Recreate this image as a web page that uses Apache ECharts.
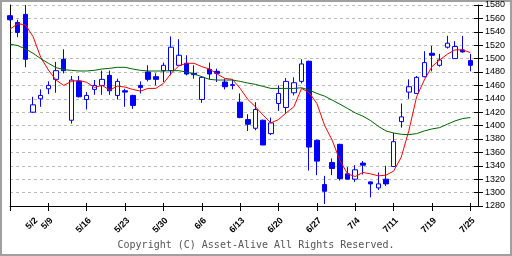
<!DOCTYPE html>
<html><head><meta charset="utf-8">
<script src="https://cdn.jsdelivr.net/npm/echarts@6/dist/echarts.min.js"></script>
<style>html,body{margin:0;padding:0;background:#fff}#c{width:512px;height:256px}</style>
</head><body><div id="c"></div>
<script>
var dates = ['4/26','4/27','4/28','5/2','5/6','5/9','5/10','5/11','5/12','5/13','5/16','5/17','5/18','5/19','5/20','5/23','5/24','5/25','5/26','5/27','5/30','5/31','6/1','6/2','6/3','6/6','6/7','6/8','6/9','6/10','6/13','6/14','6/15','6/16','6/17','6/20','6/21','6/22','6/23','6/24','6/27','6/28','6/29','6/30','7/1','7/4','7/5','7/6','7/7','7/8','7/11','7/12','7/13','7/14','7/15','7/19','7/20','7/21','7/22','7/25','7/26',''];
var opens  = [1564,1554,1566,1420,1440,1455,1469,1499,1408,1466,1439,1454,1460,1475,1445,1452,1445,1460,1480,1473,1482,1482,1490,1493,1478,1439,1484,1481,1465,1461,1435,1409,1396,1408,1388,1433,1427,1449,1466,1496,1378,1312,1345,1372,1328,1320,1344,1316,1307,1320,1339,1406,1450,1448,1473,1508,1490,1517,1500,1513,1497];
var closes = [1558,1539,1499,1431,1445,1460,1482,1482,1468,1443,1445,1460,1469,1452,1466,1450,1430,1457,1469,1469,1490,1517,1505,1477,1476,1472,1477,1478,1458,1460,1412,1402,1424,1371,1404,1448,1466,1464,1492,1368,1347,1302,1336,1321,1320,1334,1341,1313,1313,1313,1376,1413,1458,1472,1494,1505,1498,1523,1518,1510,1490];
var lows   = [1557,1532,1487,1419,1428,1447,1449,1478,1403,1442,1424,1446,1446,1446,1439,1428,1425,1448,1466,1460,1465,1475,1490,1475,1470,1434,1469,1465,1454,1454,1411,1392,1393,1371,1386,1422,1419,1445,1463,1333,1326,1283,1326,1318,1320,1316,1327,1293,1304,1310,1339,1397,1440,1448,1472,1481,1488,1515,1500,1509,1481];
var highs  = [1565,1558,1580,1443,1454,1466,1495,1514,1474,1474,1450,1468,1482,1482,1470,1455,1446,1466,1490,1478,1494,1533,1529,1505,1490,1474,1494,1485,1470,1469,1448,1417,1435,1409,1412,1460,1471,1472,1499,1497,1379,1325,1351,1373,1338,1341,1347,1317,1330,1340,1389,1433,1469,1474,1511,1519,1507,1534,1526,1534,1507];
var maShort = [1544,1552,1550.5,1533,1502,1483,1468,1460,1466,1467.5,1464.5,1457,1460,1453,1459,1457.5,1454,1451.5,1455.5,1455.5,1463,1478,1489,1493,1493,1488,1484.5,1477,1470.5,1469,1455.5,1439,1428,1415.5,1404,1409,1419,1428,1455.5,1449,1433,1400.5,1378,1348,1328,1324,1330,1328,1325,1326,1332,1353,1393,1443,1468,1488,1498,1506.5,1513,1513,1509];
var maLong = [1521.5,1519.5,1514.5,1508,1500,1493,1486.5,1483.5,1482.5,1481.5,1481.5,1482.5,1484.5,1485.5,1487,1487,1484.5,1482.5,1481.5,1481.5,1481.5,1482,1482,1480,1477,1473,1469,1468,1468,1468,1466,1463.5,1461.5,1458.5,1455.5,1455.5,1455.5,1455.5,1456.5,1453,1448,1444,1438,1432,1425.5,1419,1414,1407.5,1399,1392,1389,1387,1386.5,1388,1392,1395,1397,1402,1407,1410.5,1412];
var tickIdx = [3,5,10,15,20,25,30,35,40,45,50,55,60];
var tickLabels = ['5/2','5/9','5/16','5/23','5/30','6/6','6/13','6/20','6/27','7/4','7/11','7/19','7/25'];
var yMin = 1280, yMax = 1580, yStep = 20;

var candles = opens.map(function(o,i){ return [o, closes[i], lows[i], highs[i]]; });
function isLabel(i){ return tickIdx.indexOf(i) >= 0; }
function isTick(i){ return i === 0 || (i !== 3 && tickIdx.indexOf(i) >= 0); }

var chart = echarts.init(document.getElementById('c'), null, {renderer:'canvas'});
chart.setOption({
  animation:false,
  backgroundColor:'#fff',
  grid:{left:10, right:34, top:5, bottom:50},
  xAxis:[{
    type:'category', data:dates, boundaryGap:false,
    axisLine:{lineStyle:{color:'#000', width:1}},
    axisTick:{interval:function(i){return isTick(i);}, length:5, lineStyle:{color:'#000'}},
    axisLabel:{interval:function(i){return isLabel(i);}, rotate:45, margin:10, verticalAlign:'top',
      formatter:function(v,i){ var k = tickIdx.indexOf(i); return k>=0 ? tickLabels[k] : ''; },
      fontSize:9, fontWeight:'bold', fontFamily:'Liberation Sans', color:'#000'},
    splitLine:{show:false}
  },{
    type:'category', data:dates, boundaryGap:false, position:'bottom',
    axisLine:{show:false},
    axisTick:{interval:function(i){return isTick(i);}, inside:true, length:3, lineStyle:{color:'#000'}},
    axisLabel:{show:false}, splitLine:{show:false}
  }],
  yAxis:[{
    type:'value', position:'right', min:yMin, max:yMax, interval:yStep,
    axisLine:{show:true, lineStyle:{color:'#000'}},
    axisTick:{show:true, length:5, lineStyle:{color:'#000'}},
    axisLabel:{fontSize:9, fontFamily:'Liberation Sans', color:'#000', margin:7,
      formatter:function(v){ return String(v); }},
    splitLine:{show:true, lineStyle:{color:'#bbb', type:[3,3], width:1}}
  },{
    type:'value', position:'right', min:yMin, max:yMax, interval:yStep,
    axisLine:{show:false}, axisTick:{show:true, inside:true, length:4, lineStyle:{color:'#000'}},
    axisLabel:{show:false}, splitLine:{show:false}
  },{
    type:'value', position:'left', min:yMin, max:yMax, interval:yStep,
    axisLine:{show:true, lineStyle:{color:'#000'}}, axisTick:{show:false},
    axisLabel:{show:false}, splitLine:{show:false}
  }],
  series:[{
    type:'candlestick', data:candles, barWidth:5,
    itemStyle:{color:'#fff', color0:'#0000ff', borderColor:'#0000ff', borderColor0:'#0000ff', borderWidth:1}
  },{
    type:'line', data:maShort, symbol:'none', z:5,
    lineStyle:{color:'#ff0000', width:1}
  },{
    type:'line', data:maLong, symbol:'none', z:5,
    lineStyle:{color:'#006400', width:1}
  }],
  graphic:[{
    type:'text', left:'center', top:240,
    style:{text:'Copyright (C) Asset-Alive All Rights Reserved.', font:'10px "DejaVu Sans Mono"', fill:'#555'}
  },{
    type:'rect', shape:{x:1, y:1, width:510, height:254},
    style:{fill:'none', stroke:'#a0a0a0', lineWidth:2}
  }]
});
</script></body></html>
